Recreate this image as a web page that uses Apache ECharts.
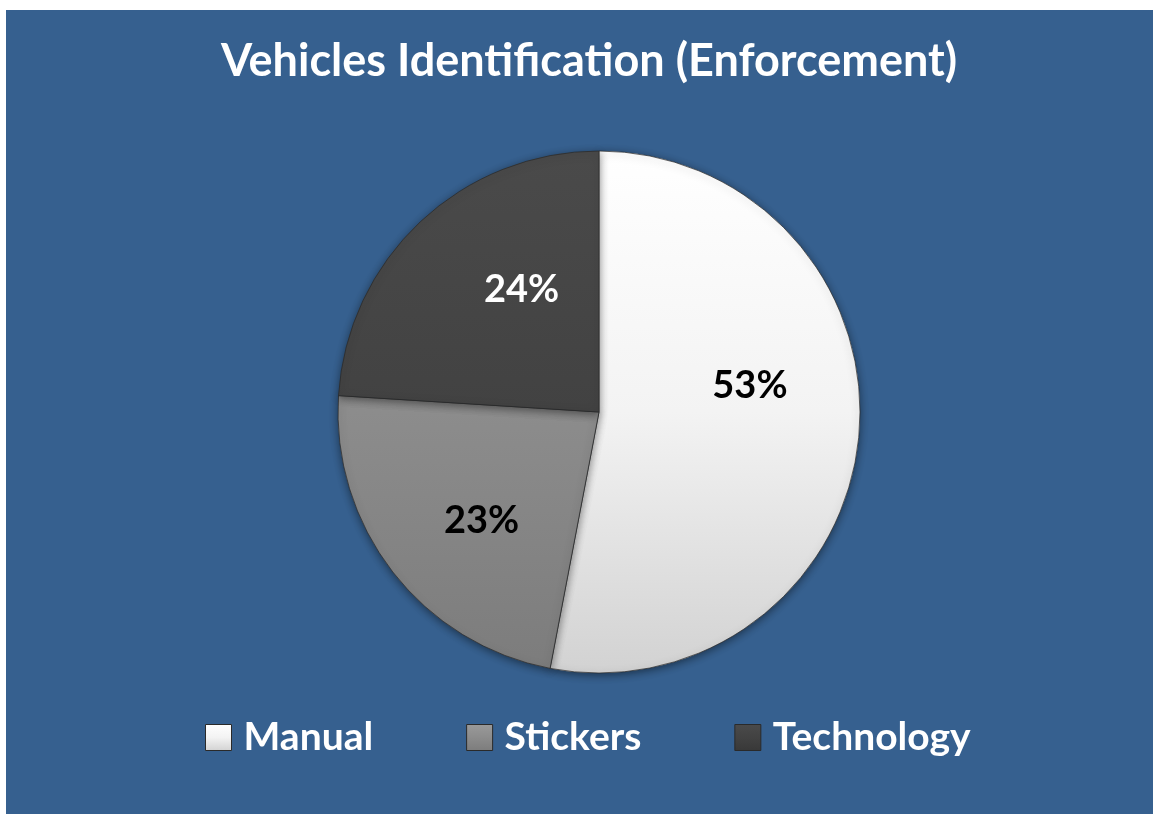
<!DOCTYPE html>
<html><head><meta charset="utf-8">
<script src="https://cdn.jsdelivr.net/npm/echarts@6/dist/echarts.min.js"></script>
<style>html,body{margin:0;padding:0;background:#fff}#c{width:1153px;height:814px}</style>
</head><body><div id="c"></div>
<script>
const titleText = 'Vehicles Identification (Enforcement)';
const categories = ['Manual', 'Stickers', 'Technology'];
const values = [53, 23, 24];

const FONT = 'Lato, "Open Sans", sans-serif';
const CX = 599, CY = 412, R = 261;
const sliceFills = [
  ['#ffffff', '#f3f3f3', '#d2d2d2'],
  ['#9a9a9a', '#8c8c8c', '#7c7c7c'],
  ['#4a4a4a', '#424242', '#383838']
];
const labelColors = ['#000000', '#000000', '#ffffff'];
const labelShift = [[18, -39], [-12, 27], [14, -25]];

function lin(stops, global) {
  return {
    type: 'linear', x: 0, y: global ? CY - R : 0,
    x2: 0, y2: global ? CY + R : 1, global: !!global,
    colorStops: [
      { offset: 0, color: stops[0] },
      { offset: 0.5, color: stops[1] },
      { offset: 1, color: stops[2] }
    ]
  };
}

const chart = echarts.init(document.getElementById('c'), null, { renderer: 'canvas' });
chart.setOption({
  backgroundColor: '#ffffff',
  animation: false,
  graphic: {
    elements: [{
      type: 'rect', z: -100, silent: true,
      shape: { x: 6, y: 10, width: 1147, height: 804 },
      style: { fill: '#36608f' }
    }]
  },
  title: {
    text: titleText,
    left: 584, top: 34, textAlign: 'center',
    textStyle: { color: '#ffffff', fontFamily: FONT, fontWeight: 'bold', fontSize: 45 }
  },
  legend: {
    left: 200, top: 713, padding: 5,
    itemWidth: 26, itemHeight: 26, itemGap: 93,
    icon: 'rect',
    data: categories.map((c, i) => ({
      name: c,
      itemStyle: { color: lin(sliceFills[i], false), borderColor: '#2a2a2a', borderWidth: 1 }
    })),
    textStyle: { color: '#ffffff', fontFamily: FONT, fontWeight: 'bold', fontSize: 39, padding: [0, 0, 0, 7] }
  },
  series: [{
    type: 'pie',
    center: [CX, CY],
    radius: [0, R],
    startAngle: 90,
    clockwise: true,
    avoidLabelOverlap: false,
    data: categories.map((c, i) => ({
      name: c, value: values[i],
      itemStyle: { color: lin(sliceFills[i], true) },
      label: { color: labelColors[i] }
    })),
    itemStyle: {
      borderColor: 'rgba(40,40,40,0.7)', borderWidth: 1,
      shadowBlur: 8, shadowColor: 'rgba(0,0,0,0.45)', shadowOffsetY: 2
    },
    label: {
      show: true, position: 'inside',
      formatter: p => p.value + '%',
      fontFamily: FONT, fontWeight: 'bold', fontSize: 38
    },
    labelLayout: p => ({ dx: labelShift[p.dataIndex][0], dy: labelShift[p.dataIndex][1] }),
    labelLine: { show: false },
    emphasis: { disabled: true }
  }]
});
</script></body></html>
